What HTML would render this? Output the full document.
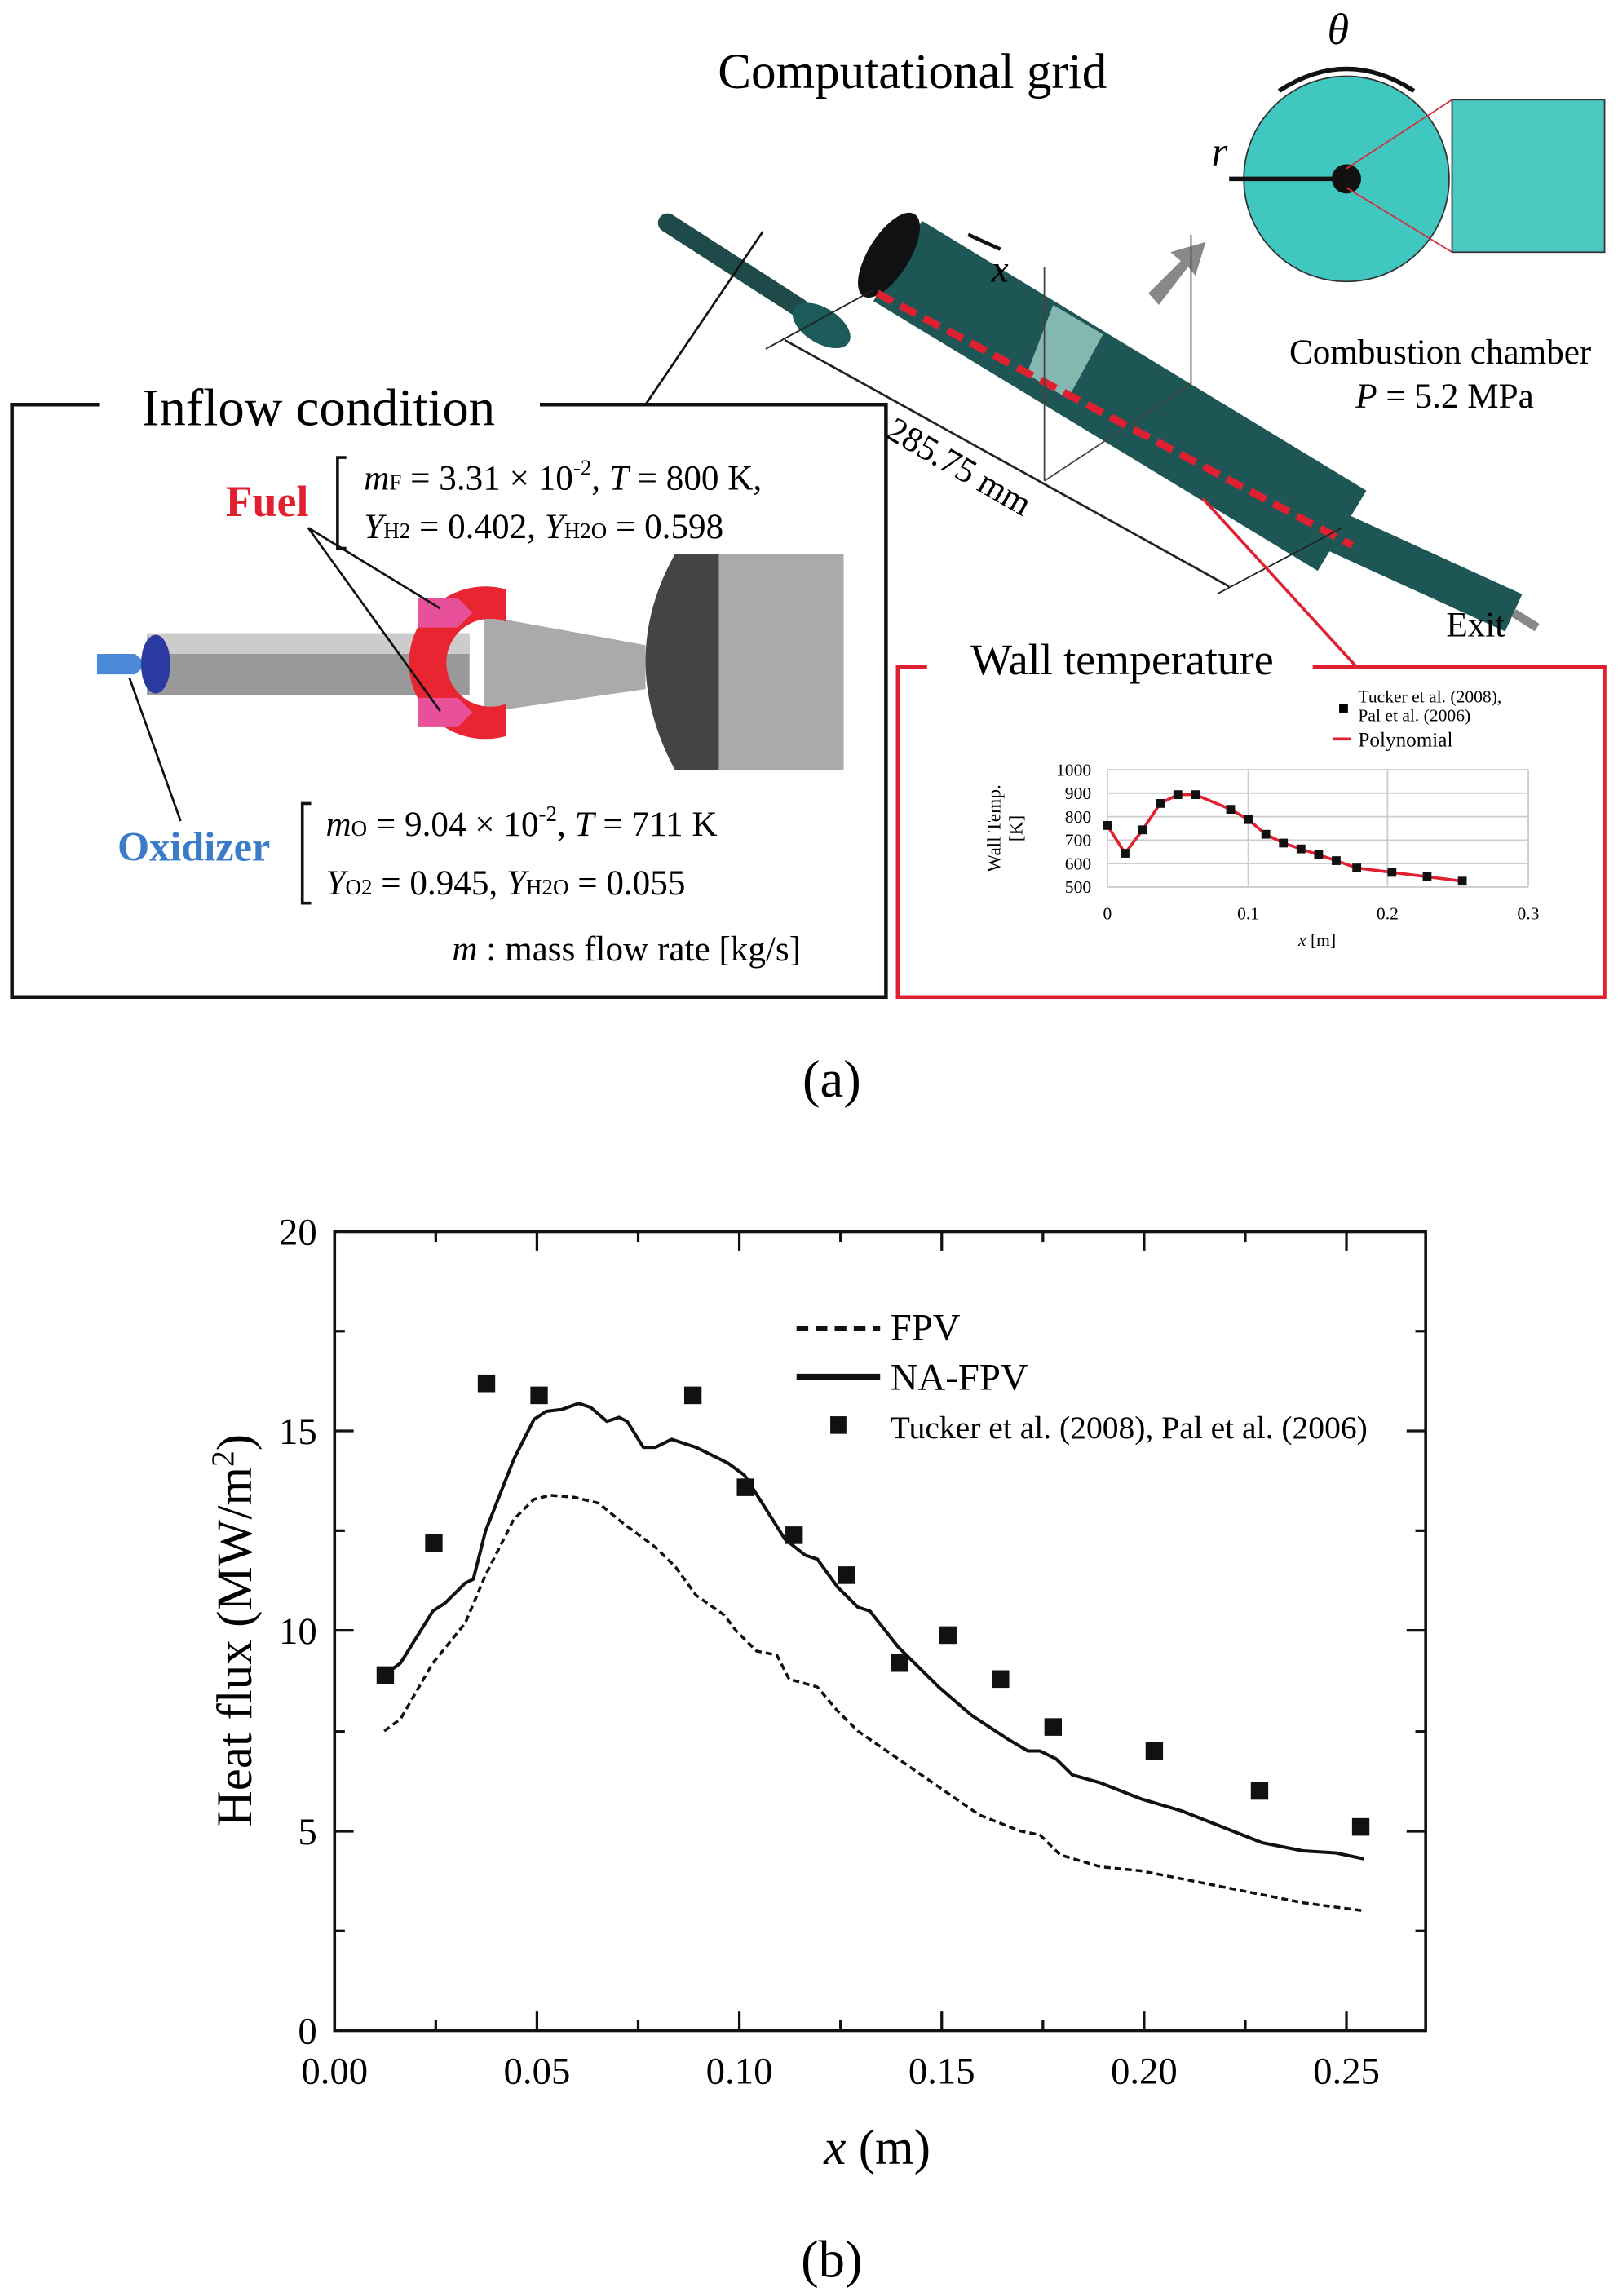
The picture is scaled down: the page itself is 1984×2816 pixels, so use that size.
<!DOCTYPE html>
<html><head><meta charset="utf-8"><style>html,body{margin:0;padding:0;background:#fff}svg{display:block}</style></head>
<body>
<svg width="1984" height="2816" viewBox="0 0 1103 1566" xmlns="http://www.w3.org/2000/svg" font-family="Liberation Serif, serif">
<rect width="1103" height="1566" fill="#fff"/>
<!-- ===== (a) ===== -->
<text x="622" y="60" font-size="34" text-anchor="middle">Computational grid</text>
<g>
<line x1="455" y1="152" x2="545" y2="210" stroke="#1f4a4a" stroke-width="13" stroke-linecap="round"/>
<ellipse cx="560" cy="222" rx="22" ry="12" transform="rotate(32 560 222)" fill="#1d5a5a"/>
<line x1="612" y1="178" x2="915" y2="362" stroke="#1e5656" stroke-width="64"/>
<line x1="905" y1="360" x2="1032" y2="418" stroke="#1e5656" stroke-width="28"/>
<ellipse cx="606" cy="174" rx="14" ry="33" transform="rotate(32 606 174)" fill="#111"/>
<polygon points="718,208 752,228 728,272 700,255" fill="#a8d8d0" opacity="0.75"/>
<line x1="598" y1="200" x2="922" y2="372" stroke="#e02030" stroke-width="5" stroke-dasharray="12,6"/>
<polygon points="783,200 805,178 798,172 822,165 815,188 810,182 790,208" fill="#888"/>
<line x1="712" y1="182" x2="712" y2="328" stroke="#444"/>
<line x1="812" y1="160" x2="812" y2="262" stroke="#444"/>
<line x1="712" y1="328" x2="812" y2="262" stroke="#444"/>
<line x1="535" y1="232" x2="838" y2="400" stroke="#222" stroke-width="1.5"/>
<line x1="522" y1="238" x2="595" y2="198" stroke="#222"/>
<line x1="830" y1="405" x2="915" y2="360" stroke="#222"/>
<line x1="1032" y1="418" x2="1048" y2="428" stroke="#888" stroke-width="6"/>
<text x="650" y="325" font-size="24" transform="rotate(30 650 325)" text-anchor="middle">285.75 mm</text>
<text x="982" y="248" font-size="24" text-anchor="middle">Combustion chamber</text>
<text x="985" y="278" font-size="24" text-anchor="middle"><tspan font-style="italic">P</tspan> = 5.2 MPa</text>
<text x="1006" y="434" font-size="24" text-anchor="middle">Exit</text>
<text x="676" y="192" font-size="26" font-style="italic">x</text>
<line x1="660" y1="160" x2="682" y2="170" stroke="#111" stroke-width="2.5"/>
<text x="826" y="113" font-size="28" font-style="italic">r</text>
<text x="905" y="30" font-size="30" font-style="italic">θ</text>
<path d="M872,62 Q918,32 964,62" fill="none" stroke="#111" stroke-width="3"/>
<circle cx="918" cy="122" r="70" fill="#40c8c0" stroke="#333"/>
<circle cx="918" cy="122" r="10" fill="#111"/>
<line x1="918" y1="122" x2="838" y2="122" stroke="#111" stroke-width="3"/>
<rect x="990" y="68" width="104" height="104" fill="#4bc9c0" stroke="#333"/>
<line x1="918" y1="115" x2="990" y2="68" stroke="#d03040"/>
<line x1="918" y1="128" x2="990" y2="172" stroke="#d03040"/>
</g>
<!-- inflow box -->
<path d="M68,276 H8 V680 H604 V276 H368" fill="none" stroke="#111" stroke-width="2.5"/>
<text x="217" y="290" font-size="36" text-anchor="middle">Inflow condition</text>
<line x1="440" y1="276" x2="520" y2="158" stroke="#111" stroke-width="1.5"/>
<text x="182" y="352" font-size="30" fill="#e02030" font-weight="bold" text-anchor="middle">Fuel</text>
<text x="132" y="587" font-size="28" fill="#3a7cc8" font-weight="bold" text-anchor="middle">Oxidizer</text>
<g font-size="24">
<text x="248" y="334"><tspan font-style="italic">m</tspan><tspan font-size="15">F</tspan> = 3.31 × 10<tspan font-size="15" dy="-10">-2</tspan><tspan dy="10">, </tspan><tspan font-style="italic">T</tspan> = 800 K,</text>
<text x="248" y="367"><tspan font-style="italic">Y</tspan><tspan font-size="15">H2</tspan> = 0.402, <tspan font-style="italic">Y</tspan><tspan font-size="15">H2O</tspan> = 0.598</text>
<text x="222" y="570"><tspan font-style="italic">m</tspan><tspan font-size="15">O</tspan> = 9.04 × 10<tspan font-size="15" dy="-10">-2</tspan><tspan dy="10">, </tspan><tspan font-style="italic">T</tspan> = 711 K</text>
<text x="222" y="610"><tspan font-style="italic">Y</tspan><tspan font-size="15">O2</tspan> = 0.945, <tspan font-style="italic">Y</tspan><tspan font-size="15">H2O</tspan> = 0.055</text>
<text x="546" y="655" text-anchor="end"><tspan font-style="italic">m</tspan> : mass flow rate [kg/s]</text>
</g>
<path d="M236,312 h-6 v62 h6" fill="none" stroke="#111" stroke-width="2"/>
<path d="M212,548 h-6 v68 h6" fill="none" stroke="#111" stroke-width="2"/>
<rect x="100" y="432" width="220" height="42" fill="#999"/>
<rect x="100" y="432" width="220" height="14" fill="#ccc"/>
<polygon points="330,420 440,440 440,470 330,486" fill="#aaa"/>
<path d="M460,378 H575 V525 H460 Q420,450 460,378 Z" fill="#444"/>
<rect x="490" y="378" width="85" height="147" fill="#aaa"/>
<path d="M345,402 a52,52 0 1,0 0,100 l0,-22 a30,30 0 1,1 0,-56 z" fill="#e82530"/>
<polygon points="285,408 312,408 322,418 312,428 285,428" fill="#e8509a"/>
<polygon points="285,476 312,476 322,486 312,496 285,496" fill="#e8509a"/>
<polygon points="66,446 92,446 100,453 92,460 66,460" fill="#4a8ad8"/>
<ellipse cx="106" cy="453" rx="10" ry="20" fill="#2a3aa0"/>
<line x1="210" y1="360" x2="300" y2="415" stroke="#111" stroke-width="1.5"/>
<line x1="210" y1="360" x2="300" y2="485" stroke="#111" stroke-width="1.5"/>
<line x1="88" y1="462" x2="123" y2="560" stroke="#111" stroke-width="1.5"/>
<!-- wall temperature box -->
<path d="M632,455 H612 V680 H1094 V455 H895" fill="none" stroke="#e02030" stroke-width="2.5"/>
<line x1="820" y1="340" x2="925" y2="455" stroke="#e02030" stroke-width="2"/>
<text x="765" y="460" font-size="30" text-anchor="middle">Wall temperature</text>
<text x="926" y="479" font-size="12">Tucker et al. (2008),</text>
<text x="926" y="492" font-size="12">Pal et al. (2006)</text>
<rect x="913" y="480" width="6" height="6"/>
<line x1="909" y1="504" x2="921" y2="504" stroke="#e02030" stroke-width="2"/>
<text x="926" y="509" font-size="14">Polynomial</text>
<g stroke="#ccc" stroke-width="1">
<line x1="755" y1="525" x2="1042" y2="525"/><line x1="755" y1="541" x2="1042" y2="541"/>
<line x1="755" y1="557" x2="1042" y2="557"/><line x1="755" y1="573" x2="1042" y2="573"/>
<line x1="755" y1="589" x2="1042" y2="589"/><line x1="755" y1="605" x2="1042" y2="605"/>
<line x1="755" y1="525" x2="755" y2="605"/><line x1="851" y1="525" x2="851" y2="605"/>
<line x1="946" y1="525" x2="946" y2="605"/><line x1="1042" y1="525" x2="1042" y2="605"/>
</g>
<g font-size="12" text-anchor="end">
<text x="744" y="529">1000</text><text x="744" y="545">900</text><text x="744" y="561">800</text>
<text x="744" y="577">700</text><text x="744" y="593">600</text><text x="744" y="609">500</text>
</g>
<g font-size="12" text-anchor="middle">
<text x="755" y="627">0</text><text x="851" y="627">0.1</text><text x="946" y="627">0.2</text><text x="1042" y="627">0.3</text>
<text x="898" y="645" font-style="italic">x <tspan font-style="normal">[m]</tspan></text>
</g>
<text x="0" y="0" font-size="13" text-anchor="middle" transform="translate(682,565) rotate(-90)">Wall Temp.</text>
<text x="0" y="0" font-size="13" text-anchor="middle" transform="translate(697,565) rotate(-90)">[K]</text>
<polyline fill="none" stroke="#e02030" stroke-width="2" points="755,563 767,582 779,566 791,548 803,542 815,542 839,552 851,559 863,569 875,575 887,579 899,583 911,587 925,592 949,595 973,598 997,601"/>
<g fill="#111">
<rect x="752" y="560" width="6" height="6"/><rect x="764" y="579" width="6" height="6"/><rect x="776" y="563" width="6" height="6"/>
<rect x="788" y="545" width="6" height="6"/><rect x="800" y="539" width="6" height="6"/><rect x="812" y="539" width="6" height="6"/>
<rect x="836" y="549" width="6" height="6"/><rect x="848" y="556" width="6" height="6"/><rect x="860" y="566" width="6" height="6"/>
<rect x="872" y="572" width="6" height="6"/><rect x="884" y="576" width="6" height="6"/><rect x="896" y="580" width="6" height="6"/>
<rect x="908" y="584" width="6" height="6"/><rect x="922" y="589" width="6" height="6"/><rect x="946" y="592" width="6" height="6"/>
<rect x="970" y="595" width="6" height="6"/><rect x="994" y="598" width="6" height="6"/>
</g>
<text x="567" y="748" font-size="36" text-anchor="middle">(a)</text>

<!-- ===== (b) ===== -->
<rect x="228" y="840" width="744" height="545" fill="none" stroke="#111" stroke-width="2"/>
<g stroke="#111" stroke-width="1.8">
<line x1="366" y1="1385" x2="366" y2="1372"/><line x1="504" y1="1385" x2="504" y2="1372"/><line x1="642" y1="1385" x2="642" y2="1372"/><line x1="780" y1="1385" x2="780" y2="1372"/><line x1="918" y1="1385" x2="918" y2="1372"/>
<line x1="297" y1="1385" x2="297" y2="1378"/><line x1="435" y1="1385" x2="435" y2="1378"/><line x1="573" y1="1385" x2="573" y2="1378"/><line x1="711" y1="1385" x2="711" y2="1378"/><line x1="849" y1="1385" x2="849" y2="1378"/>
<line x1="366" y1="840" x2="366" y2="853"/><line x1="504" y1="840" x2="504" y2="853"/><line x1="642" y1="840" x2="642" y2="853"/><line x1="780" y1="840" x2="780" y2="853"/><line x1="918" y1="840" x2="918" y2="853"/>
<line x1="297" y1="840" x2="297" y2="847"/><line x1="435" y1="840" x2="435" y2="847"/><line x1="573" y1="840" x2="573" y2="847"/><line x1="711" y1="840" x2="711" y2="847"/><line x1="849" y1="840" x2="849" y2="847"/>
<line x1="228" y1="1249" x2="241" y2="1249"/><line x1="228" y1="1112" x2="241" y2="1112"/><line x1="228" y1="976" x2="241" y2="976"/>
<line x1="228" y1="1317" x2="235" y2="1317"/><line x1="228" y1="1181" x2="235" y2="1181"/><line x1="228" y1="1044" x2="235" y2="1044"/><line x1="228" y1="908" x2="235" y2="908"/>
<line x1="972" y1="1249" x2="959" y2="1249"/><line x1="972" y1="1112" x2="959" y2="1112"/><line x1="972" y1="976" x2="959" y2="976"/>
<line x1="972" y1="1317" x2="965" y2="1317"/><line x1="972" y1="1181" x2="965" y2="1181"/><line x1="972" y1="1044" x2="965" y2="1044"/><line x1="972" y1="908" x2="965" y2="908"/>
</g>
<g font-size="26" text-anchor="end">
<text x="216" y="1394">0</text><text x="216" y="1258">5</text><text x="216" y="1121">10</text><text x="216" y="985">15</text><text x="216" y="849">20</text>
</g>
<g font-size="26" text-anchor="middle">
<text x="228" y="1421">0.00</text><text x="366" y="1421">0.05</text><text x="504" y="1421">0.10</text><text x="642" y="1421">0.15</text><text x="780" y="1421">0.20</text><text x="918" y="1421">0.25</text>
</g>
<text x="0" y="0" font-size="34" text-anchor="middle" transform="translate(171,1112) rotate(-90)">Heat flux (MW/m<tspan font-size="22" dy="-12">2</tspan><tspan dy="12">)</tspan></text>
<text x="598" y="1476" font-size="34" text-anchor="middle"><tspan font-style="italic">x</tspan> (m)</text>
<text x="567" y="1553" font-size="36" text-anchor="middle">(b)</text>
<line x1="543" y1="906" x2="600" y2="906" stroke="#111" stroke-width="3.5" stroke-dasharray="8,5"/>
<text x="607" y="914" font-size="26">FPV</text>
<line x1="543" y1="939" x2="600" y2="939" stroke="#111" stroke-width="4"/>
<text x="607" y="948" font-size="26">NA-FPV</text>
<rect x="566" y="966" width="11" height="12" fill="#111"/>
<text x="607" y="981" font-size="22">Tucker et al. (2008), Pal et al. (2006)</text>
<g transform="translate(226,1385) scale(2760,-27.25)">
<polyline fill="none" stroke="#111" stroke-width="4" vector-effect="non-scaling-stroke" stroke-linejoin="round" points="0.013,8.9 0.017,9.2 0.025,10.5 0.028,10.7 0.033,11.2 0.035,11.3 0.038,12.5 0.045,14.3 0.05,15.3 0.053,15.5 0.057,15.55 0.061,15.7 0.064,15.6 0.068,15.25 0.071,15.35 0.073,15.25 0.077,14.6 0.08,14.6 0.084,14.8 0.09,14.6 0.098,14.2 0.102,13.9 0.107,13.1 0.112,12.3 0.117,11.9 0.12,11.8 0.125,11.1 0.13,10.6 0.133,10.5 0.14,9.6 0.15,8.6 0.158,7.9 0.167,7.3 0.172,7.0 0.175,7.0 0.179,6.8 0.183,6.4 0.19,6.2 0.2,5.8 0.21,5.5 0.22,5.1 0.23,4.7 0.24,4.5 0.248,4.45 0.255,4.3"/>
<polyline fill="none" stroke="#111" stroke-width="3.5" stroke-dasharray="8,5" vector-effect="non-scaling-stroke" stroke-linejoin="round" points="0.013,7.5 0.017,7.8 0.025,9.2 0.033,10.2 0.038,11.4 0.045,12.8 0.05,13.3 0.054,13.4 0.06,13.35 0.066,13.2 0.072,12.7 0.08,12.1 0.085,11.6 0.09,10.9 0.097,10.4 0.1,10.0 0.105,9.5 0.11,9.4 0.113,8.8 0.12,8.6 0.125,8.0 0.13,7.5 0.14,6.8 0.15,6.1 0.16,5.4 0.17,5.0 0.175,4.9 0.18,4.4 0.19,4.1 0.2,4.0 0.21,3.8 0.22,3.6 0.23,3.4 0.24,3.2 0.255,3.0"/>
<g fill="#111">
<rect x="0.0111" y="8.68" width="0.0043" height="0.44"/>
<rect x="0.0231" y="11.98" width="0.0043" height="0.44"/>
<rect x="0.0361" y="15.98" width="0.0043" height="0.44"/>
<rect x="0.0491" y="15.68" width="0.0043" height="0.44"/>
<rect x="0.0871" y="15.68" width="0.0043" height="0.44"/>
<rect x="0.1001" y="13.38" width="0.0043" height="0.44"/>
<rect x="0.1121" y="12.18" width="0.0043" height="0.44"/>
<rect x="0.1251" y="11.18" width="0.0043" height="0.44"/>
<rect x="0.1381" y="8.98" width="0.0043" height="0.44"/>
<rect x="0.1501" y="9.68" width="0.0043" height="0.44"/>
<rect x="0.1631" y="8.58" width="0.0043" height="0.44"/>
<rect x="0.1761" y="7.38" width="0.0043" height="0.44"/>
<rect x="0.2011" y="6.78" width="0.0043" height="0.44"/>
<rect x="0.2271" y="5.78" width="0.0043" height="0.44"/>
<rect x="0.2521" y="4.88" width="0.0043" height="0.44"/>
</g>
</g>
</svg>
</body></html>
